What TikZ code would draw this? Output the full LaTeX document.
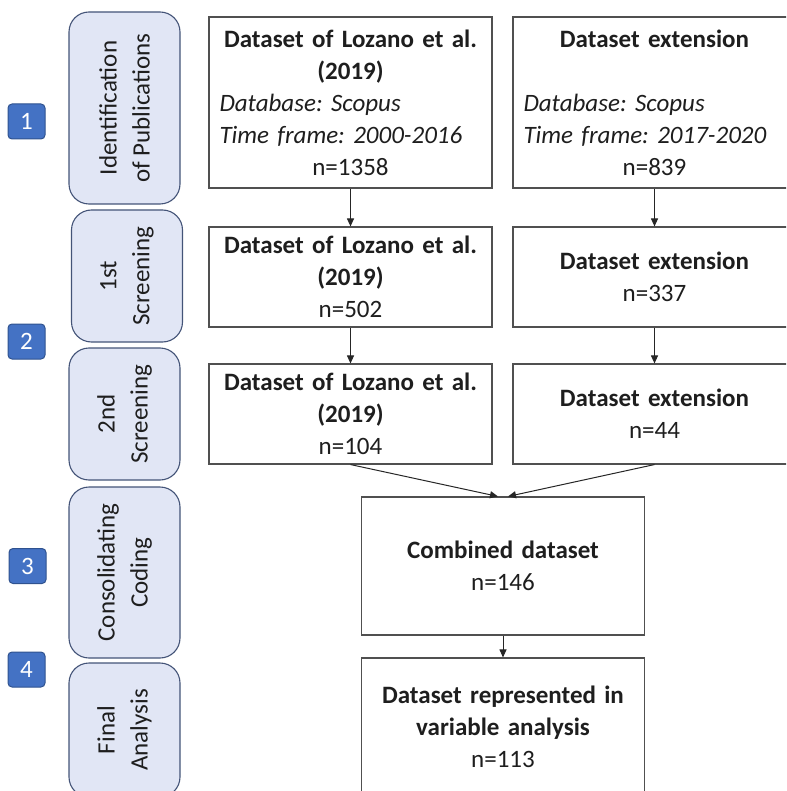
\documentclass[tikz,border=0pt]{standalone}
\usepackage{fontspec}
\setmainfont{Carlito}
\usetikzlibrary{arrows.meta,positioning}
\definecolor{phasefill}{RGB}{225,230,245}
\definecolor{phaseline}{RGB}{68,84,120}
\definecolor{badgeblue}{RGB}{68,114,196}
\definecolor{badgeline}{RGB}{47,82,143}
\definecolor{boxline}{RGB}{80,80,80}
\definecolor{textdark}{RGB}{30,30,30}
\tikzset{
    % Define standard node styles
    phasebox/.style={
        rectangle, draw=phaseline, line width=1.1pt, fill=phasefill,
        rounded corners=20pt, rotate=90, align=center, text=textdark,
        font=\fontsize{25}{33}\selectfont,
        minimum height=111pt, inner sep=0pt
    },
    stepbadge/.style={
        rectangle, draw=badgeline, line width=1pt, fill=badgeblue,
        rounded corners=4pt, minimum width=37pt, minimum height=35pt,
        text=white, font=\fontsize{25}{28}\selectfont, inner sep=0pt
    },
    databox/.style={
        rectangle, draw=boxline, line width=1.1pt, fill=white,
        text width=262pt, align=center, text=textdark,
        inner xsep=10.5pt, inner ysep=0pt,
        minimum height=100pt, font=\fontsize{25}{32}\selectfont
    },
    flowarrow/.style={
        -{Triangle[length=8pt,width=7pt]}, line width=1pt, draw=black!85
    }
}
\newcommand{\itline}[1]{\makebox[\linewidth][l]{\itshape #1}}
\frenchspacing

\begin{document}
\begin{tikzpicture}[x=1pt,y=-1pt]
\clip (0,0) rectangle (786,791);
\useasboundingbox (0,0) rectangle (786,791);

% phases
\node[phasebox, minimum width=192pt] (ident) at (124.5,108) {Identification\\of Publications};
\node[phasebox, minimum width=132pt] (screenA) at (127,276) {1st\\Screening};
\node[phasebox, minimum width=132pt] (screenB) at (124.5,414) {2nd\\Screening};
\node[phasebox, minimum width=171pt] (coding) at (124.5,572.5) {Consolidating\\Coding};
\node[phasebox, minimum width=134pt] (analysis) at (124.5,730) {Final\\Analysis};

\node[stepbadge] (num1) at (26.5,121.5) {1};
\node[stepbadge] (num2) at (26.5,341.5) {2};
\node[stepbadge] (num3) at (27.5,566) {3};
\node[stepbadge] (num4) at (26.5,669.5) {4};

% datasets
\node[databox, minimum height=171pt] (lozanoA) at (350.5,102.5)
    {\textbf{Dataset of Lozano et al.}\\\textbf{(2019)}\\\itline{Database: Scopus}\\\itline{Time frame: 2000-2016}\\n=1358};
\node[databox, minimum height=171pt] (extA) at (654.5,102.5)
    {\textbf{Dataset extension}\\[32pt]\itline{Database: Scopus}\\\itline{Time frame: 2017-2020}\\n=839};
\node[databox] (lozanoB) at (350.5,277) {\textbf{Dataset of Lozano et al.}\\\textbf{(2019)}\\n=502};
\node[databox] (extB) at (654.5,277) {\textbf{Dataset extension}\\n=337};
\node[databox] (lozanoC) at (350.5,414) {\textbf{Dataset of Lozano et al.}\\\textbf{(2019)}\\n=104};
\node[databox] (extC) at (654.5,414) {\textbf{Dataset extension}\\n=44};
\node[databox, minimum height=138pt] (combined) at (503,566) {\textbf{Combined dataset}\\n=146};
\node[databox, minimum height=138pt] (final) at (503,727)
    {\textbf{Dataset represented in}\\\textbf{variable analysis}\\n=113};

\draw[flowarrow] (lozanoA) -- (lozanoB);
\draw[flowarrow] (extA) -- (extB);
\draw[flowarrow] (lozanoB) -- (lozanoC);
\draw[flowarrow] (extB) -- (extC);
\draw[flowarrow] (lozanoC.south) -- ([xshift=-5pt]combined.north);
\draw[flowarrow] (extC.south) -- ([xshift=5pt]combined.north);
\draw[flowarrow] (combined) -- (final);

\end{tikzpicture}
\end{document}
